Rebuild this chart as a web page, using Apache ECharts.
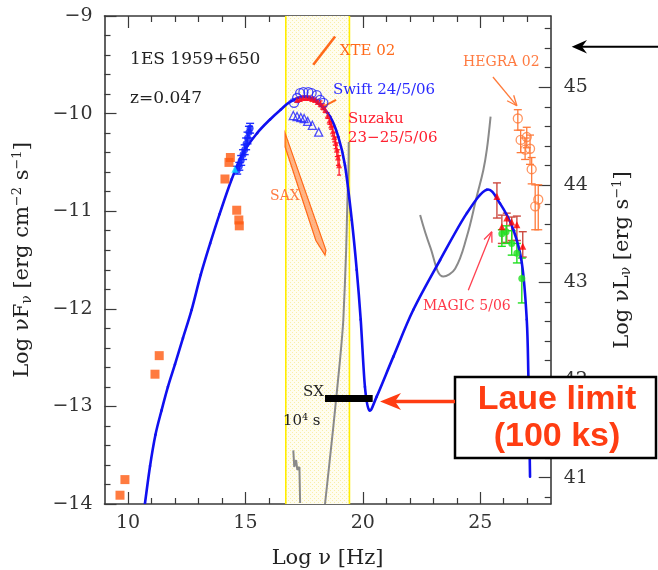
<!DOCTYPE html>
<html>
<head>
<meta charset="utf-8">
<title>1ES 1959+650 SED</title>
<script src="https://cdn.jsdelivr.net/npm/echarts@6/dist/echarts.min.js"></script>
<style>
  html, body { margin: 0; padding: 0; background: #fff; }
  #chart { width: 658px; height: 570px; }
</style>
</head>
<body>
<div id="chart"></div>
<script>
// ---- axes ----
const xMajorTicks = [10, 15, 20, 25];
const yRightTicks = [41, 42, 43, 44, 45];
const lumOffset = 54.73; // log nuL_nu = log nuF_nu + offset

// shaded X-ray window (log nu)
const bandRange = [16.72, 19.43];

// SSC model curve [log nu, log nuFnu]
const modelCurve = [
  [10.72, -14.00], [10.94, -13.61], [11.17, -13.29], [11.43, -13.04], [11.70, -12.80],
  [12.00, -12.57], [12.34, -12.30], [12.71, -12.01], [13.10, -11.65], [13.50, -11.33],
  [13.90, -11.03], [14.42, -10.67], [14.91, -10.40], [15.50, -10.20], [16.05, -10.06],
  [16.50, -9.96], [16.90, -9.88], [17.47, -9.83], [18.04, -9.88], [18.60, -10.03],
  [18.96, -10.24], [19.24, -10.53], [19.53, -11.09], [19.74, -11.60], [19.91, -12.11],
  [20.09, -12.80], [20.28, -13.04], [20.59, -12.90], [21.30, -12.49], [22.15, -12.01],
  [23.29, -11.50], [24.43, -11.02], [25.28, -10.78], [25.84, -10.92], [26.41, -11.19],
  [26.77, -11.53], [26.98, -12.11], [27.05, -12.70], [27.12, -13.72]
];

// sensitivity curves (grey)
const sensHard = [[18.39, -14.0], [18.73, -13.24], [19.03, -12.52], [19.17, -12.11],
  [19.29, -11.40], [19.34, -10.92], [19.39, -10.58], [19.40, -10.29]];
const sensSoft = [[17.04, -13.45], [17.08, -13.62], [17.16, -13.55], [17.21, -13.65],
  [17.30, -13.62], [17.33, -13.99]];
const sensGamma = [[22.44, -11.04], [22.86, -11.36], [23.43, -11.67], [23.93, -11.59],
  [24.43, -11.26], [24.85, -10.85], [25.13, -10.58], [25.28, -10.37], [25.44, -10.03]];

// archival radio / optical (orange squares)
const archival = [[9.66, -13.91], [9.87, -13.75], [11.15, -12.67], [11.33, -12.48],
  [14.13, -10.67], [14.30, -10.50], [14.36, -10.45], [14.63, -10.99], [14.72, -11.09], [14.74, -11.15]];

// Swift UVOT [x, y, err]
const uvot = [[14.65, -10.58, 0.04], [14.74, -10.54, 0.04], [14.82, -10.48, 0.05],
  [14.90, -10.42, 0.05], [14.97, -10.37, 0.05], [15.03, -10.31, 0.06], [15.09, -10.25, 0.06],
  [15.15, -10.19, 0.06], [15.20, -10.15, 0.05]];
const uvotCyan = [[14.55, -10.57]];

// Swift XRT 24/5/06
const swiftCircles = [[17.07, -9.89], [17.20, -9.84], [17.33, -9.79], [17.47, -9.78], [17.68, -9.78],
  [17.82, -9.79], [18.04, -9.81], [18.18, -9.86], [18.32, -9.89]];
const swiftTriangles = [[17.04, -10.02], [17.20, -10.03], [17.36, -10.04], [17.50, -10.05],
  [17.65, -10.08], [17.85, -10.12], [18.12, -10.19]];

// Suzaku 23-25/5/06 [x, y, err]
const suzaku = [[17.20, -9.86, 0.02], [17.32, -9.85, 0.02], [17.45, -9.84, 0.02], [17.58, -9.84, 0.02],
  [17.71, -9.84, 0.02], [17.84, -9.85, 0.02], [17.96, -9.86, 0.02], [18.08, -9.88, 0.02],
  [18.20, -9.90, 0.03], [18.30, -9.93, 0.03], [18.40, -9.96, 0.03], [18.50, -10.02, 0.03],
  [18.58, -10.07, 0.04], [18.65, -10.12, 0.04], [18.72, -10.18, 0.05], [18.78, -10.24, 0.05],
  [18.84, -10.30, 0.06], [18.89, -10.37, 0.07], [18.94, -10.45, 0.08], [18.99, -10.53, 0.10]];

// XTE 02 and SAX
const xteLine = [[17.89, -9.50], [18.82, -9.21]];
const xteTail = [[18.30, -9.93], [18.86, -9.86]];
const saxBowtie = [[16.69, -10.20], [18.43, -11.40], [18.39, -11.45], [18.00, -11.30], [16.69, -10.34]];

// HEGRA 02 [x, y, lo, hi]
const hegra = [[26.60, -10.05, -10.17, -9.96], [26.72, -10.27, -10.40, -10.17],
  [26.98, -10.24, -10.35, -10.14], [26.91, -10.37, -10.47, -10.25], [27.12, -10.36, -10.52, -10.22],
  [27.19, -10.57, -10.72, -10.45], [27.47, -10.88, -11.19, -10.73], [27.34, -10.95, -11.19, -10.73]];

// MAGIC 5/06 [x, y, lo, hi]
const magicRed = [[25.71, -10.85, -11.07, -10.71], [25.92, -11.16, -11.33, -11.04],
  [26.13, -11.07, -11.32, -11.02], [26.34, -11.11, -11.30, -11.06], [26.56, -11.14, -11.30, -11.05],
  [26.81, -11.36, -11.47, -11.21]];
const magicGreen = [[25.92, -11.23, -11.36, -11.19], [26.10, -11.21, -11.33, -11.15],
  [26.34, -11.33, -11.45, -11.20], [26.56, -11.43, -11.53, -11.33], [26.77, -11.69, -11.94, -11.48]];

// Laue lens sensitivity (SX bar)
const sxBar = [[18.39, -12.92], [20.42, -12.92]];

// annotation arrows [x1, y1, x2, y2]
const hegraArrow = [[25.54, -9.625, 26.56, -9.92]];
const magicArrow = [[24.49, -11.81, 25.49, -11.21]];

// annotations
const noteText = ['1ES 1959+650', 'z=0.047', 'XTE 02', 'Swift 24/5/06', 'Suzaku', '23\u221225/5/06',
  'SAX', 'HEGRA 02', 'MAGIC 5/06', 'SX', '10\u2074 s'];
const notePos = [[10.09, -9.45], [10.09, -9.85], [19.02, -9.36], [18.73, -9.76], [19.37, -10.06],
  [19.37, -10.255], [16.05, -10.85], [24.27, -9.48], [22.56, -11.97], [17.45, -12.85], [16.60, -13.15]];

const serif = 'DejaVu Serif';
const axisColor = '#3a3a3a';
const orange = '#ff6a1a';
const noteStyle = [
  { c: '#222', s: 17 }, { c: '#222', s: 17 }, { c: orange, s: 15 }, { c: '#2a2aff', s: 15 },
  { c: '#ff2030', s: 15 }, { c: '#ff2030', s: 15 }, { c: '#ff7a40', s: 14 }, { c: '#ff7a40', s: 14 },
  { c: '#ff3848', s: 14 }, { c: '#222', s: 15 }, { c: '#222', s: 15 }
];

const rightMinor = [];
for (let v = 40.8; v < 45.7; v += 0.2) {
  const r = Math.round(v * 10) / 10;
  if (!yRightTicks.includes(r)) rightMinor.push(r);
}
const xMinor = [];
for (let v = 10; v <= 27; v++) if (!xMajorTicks.includes(v)) xMinor.push(v);

// dotted pattern for the shaded band
const pat = document.createElement('canvas');
pat.width = 4; pat.height = 4;
const pc = pat.getContext('2d');
pc.fillStyle = '#fffdf0'; pc.fillRect(0, 0, 4, 4);
pc.fillStyle = '#f9efa8'; pc.fillRect(0, 0, 1, 1); pc.fillRect(2, 2, 1, 1);

function errorBars(rows, color, cap, width) {
  return {
    type: 'custom', z: 3, silent: true,
    data: rows, encode: { x: 0, y: [1, 2] },
    renderItem: (params, api) => {
      const x = api.value(0);
      const lo = api.coord([x, api.value(1)]);
      const hi = api.coord([x, api.value(2)]);
      const st = { stroke: color, lineWidth: width || 1.2 };
      return { type: 'group', children: [
        { type: 'line', shape: { x1: lo[0], y1: lo[1], x2: hi[0], y2: hi[1] }, style: st },
        { type: 'line', shape: { x1: lo[0] - cap, y1: lo[1], x2: lo[0] + cap, y2: lo[1] }, style: st },
        { type: 'line', shape: { x1: hi[0] - cap, y1: hi[1], x2: hi[0] + cap, y2: hi[1] }, style: st }
      ] };
    }
  };
}

function arrows(rows, color) {
  return {
    type: 'custom', z: 4, silent: true,
    data: rows, encode: { x: [0, 2], y: [1, 3] },
    renderItem: (params, api) => {
      const a = api.coord([api.value(0), api.value(1)]);
      const b = api.coord([api.value(2), api.value(3)]);
      const ang = Math.atan2(b[1] - a[1], b[0] - a[0]);
      const h = 11, w = 0.4;
      const st = { stroke: color, lineWidth: 1.3 };
      return { type: 'group', children: [
        { type: 'line', shape: { x1: a[0], y1: a[1], x2: b[0], y2: b[1] }, style: st },
        { type: 'line', shape: { x1: b[0], y1: b[1], x2: b[0] - h * Math.cos(ang - w), y2: b[1] - h * Math.sin(ang - w) }, style: st },
        { type: 'line', shape: { x1: b[0], y1: b[1], x2: b[0] - h * Math.cos(ang + w), y2: b[1] - h * Math.sin(ang + w) }, style: st }
      ] };
    }
  };
}

// Catmull-Rom spline through the data points (in pixel space, after the axes' scales)
function spline(points, color, width, z) {
  return {
    type: 'custom', z: z, silent: true, clip: true, data: [0],
    renderItem: (params, api) => {
      const p = points.map(d => api.coord(d));
      const kids = [];
      for (let i = 0; i < p.length - 1; i++) {
        const p0 = p[i - 1] || p[i], p1 = p[i], p2 = p[i + 1], p3 = p[i + 2] || p[i + 1];
        kids.push({
          type: 'bezierCurve',
          shape: {
            x1: p1[0], y1: p1[1], x2: p2[0], y2: p2[1],
            cpx1: p1[0] + (p2[0] - p0[0]) / 6, cpy1: p1[1] + (p2[1] - p0[1]) / 6,
            cpx2: p2[0] - (p3[0] - p1[0]) / 6, cpy2: p2[1] - (p3[1] - p1[1]) / 6
          },
          style: { stroke: color, lineWidth: width, fill: null, lineCap: 'round' }
        });
      }
      return { type: 'group', children: kids };
    }
  };
}

function scatter(data, symbol, size, color, open, z) {
  return {
    type: 'scatter', z: z || 5, symbol: symbol, symbolSize: size, silent: true,
    data: data.map(d => [d[0], d[1]]),
    itemStyle: open
      ? { color: 'rgba(255,255,255,0)', borderColor: color, borderWidth: 1.3 }
      : { color: color }
  };
}

function line(data, color, width, smooth, z) {
  return {
    type: 'line', data: data, symbol: 'none', smooth: smooth || false, z: z || 2,
    lineStyle: { color: color, width: width }, silent: true
  };
}

const nameStyle = {
  fontFamily: serif, fontSize: 21, color: '#222',
  rich: {
    n: { fontFamily: serif, fontSize: 21, color: '#222' },
    sub: { fontFamily: serif, fontSize: 14, color: '#222', verticalAlign: 'bottom', padding: [8, 0, 0, 0] },
    sup: { fontFamily: serif, fontSize: 13, color: '#222', verticalAlign: 'top', padding: [0, 0, 10, 0] }
  }
};
const tickLine = { color: axisColor, width: 1.2 };
const labelStyle = { fontFamily: serif, fontSize: 19, color: '#333' };
const minus = v => (v < 0 ? '\u2212' + Math.abs(v) : String(v));

const chart = echarts.init(document.getElementById('chart'));
chart.setOption({
  animation: false,
  backgroundColor: '#fff',
  grid: { left: 104.5, top: 16, right: 107.3, bottom: 66, outerBoundsMode: 'none' },
  xAxis: [
    {
      type: 'value', position: 'bottom', min: 9, max: 28,
      axisLine: { show: true, lineStyle: { color: axisColor, width: 1.6 } },
      axisTick: { show: true, inside: true, length: 6, customValues: xMinor, lineStyle: tickLine },
      axisLabel: { show: false }, splitLine: { show: false },
      name: '{n|Log \u03BD [Hz]}', nameLocation: 'middle', nameGap: 44, nameTextStyle: nameStyle
    },
    {
      type: 'value', position: 'bottom', min: 9, max: 28,
      axisLine: { show: false },
      axisTick: { show: true, inside: true, length: 12, customValues: xMajorTicks, lineStyle: tickLine },
      axisLabel: Object.assign({ show: true, customValues: xMajorTicks, margin: 10 }, labelStyle),
      splitLine: { show: false }
    },
    {
      type: 'value', position: 'top', min: 9, max: 28,
      axisLine: { show: true, lineStyle: { color: axisColor, width: 1.6 } },
      axisTick: { show: true, inside: true, length: 6, customValues: xMinor, lineStyle: tickLine },
      axisLabel: { show: false }, splitLine: { show: false }
    },
    {
      type: 'value', position: 'top', min: 9, max: 28,
      axisLine: { show: false },
      axisTick: { show: true, inside: true, length: 12, customValues: xMajorTicks, lineStyle: tickLine },
      axisLabel: { show: false }, splitLine: { show: false }
    }
  ],
  yAxis: [
    {
      type: 'value', position: 'left', min: -14, max: -9, interval: 1,
      axisLine: { show: true, lineStyle: { color: axisColor, width: 1.6 } },
      axisTick: { show: true, inside: true, length: 12, lineStyle: tickLine },
      minorTick: { show: true, splitNumber: 5, length: 6, lineStyle: tickLine },
      axisLabel: Object.assign({ margin: 12, formatter: minus }, labelStyle),
      splitLine: { show: false }, minorSplitLine: { show: false },
      name: '{n|Log \u03BDF}{sub|\u03BD}{n| [erg cm}{sup|\u22122}{n| s}{sup|\u22121}{n|]}',
      nameLocation: 'middle', nameGap: 70, nameRotate: 90, nameTextStyle: nameStyle
    },
    {
      type: 'value', position: 'right', min: -14 + lumOffset, max: -9 + lumOffset,
      axisLine: { show: true, lineStyle: { color: axisColor, width: 1.6 } },
      axisTick: { show: true, inside: true, length: 12, customValues: yRightTicks, lineStyle: tickLine },
      axisLabel: Object.assign({ show: true, customValues: yRightTicks, margin: 13 }, labelStyle),
      splitLine: { show: false },
      name: '{n|Log \u03BDL}{sub|\u03BD}{n| [erg s}{sup|\u22121}{n|]}',
      nameLocation: 'middle', nameGap: 60, nameRotate: 90, nameTextStyle: nameStyle
    },
    {
      type: 'value', position: 'right', min: -14 + lumOffset, max: -9 + lumOffset,
      axisLine: { show: false },
      axisTick: { show: true, inside: true, length: 6, customValues: rightMinor, lineStyle: tickLine },
      axisLabel: { show: false }, splitLine: { show: false }
    }
  ],
  series: [
    {
      type: 'custom', z: 1, silent: true, data: [bandRange], encode: { x: [0, 1] },
      renderItem: (params, api) => {
        const a = api.coord([api.value(0), -9]);
        const b = api.coord([api.value(1), -14]);
        const st = { stroke: '#ffee00', lineWidth: 1.6 };
        return { type: 'group', children: [
          { type: 'rect', shape: { x: a[0], y: a[1], width: b[0] - a[0], height: b[1] - a[1] },
            style: { fill: { image: pat, repeat: 'repeat' } } },
          { type: 'line', shape: { x1: a[0], y1: a[1], x2: a[0], y2: b[1] }, style: st },
          { type: 'line', shape: { x1: b[0], y1: a[1], x2: b[0], y2: b[1] }, style: st }
        ] };
      }
    },
    line(sensHard, '#8a8a8a', 2, 0.2),
    line(sensSoft, '#8a8a8a', 2, false),
    line(sensGamma, '#8a8a8a', 2, 0.4),
    line(xteLine, orange, 2.6, false, 3),
    line(xteTail, orange, 2, false, 3),
    {
      type: 'custom', z: 3, silent: true, data: [0],
      renderItem: (params, api) => ({
        type: 'polygon', shape: { points: saxBowtie.map(p => api.coord(p)) },
        style: { fill: 'rgba(255,120,50,0.55)', stroke: orange, lineWidth: 1.2 }
      })
    },
    line(sxBar, '#000', 7, false, 6),
    spline(modelCurve, '#1010f0', 2.6, 4),
    scatter(archival, 'rect', 9, '#ff5a10', false),
    errorBars(uvot.map(d => [d[0], d[1] - d[2], d[1] + d[2]]), '#2030ff', 4, 1.4),
    scatter(uvot, 'circle', 7, '#1020ff', false),
    scatter(uvotCyan, 'triangle', 7, '#10e0ff', false),
    scatter(swiftCircles, 'circle', 9, '#2020ff', true),
    scatter(swiftTriangles, 'triangle', 8, '#2020ff', true),
    errorBars(suzaku.map(d => [d[0], d[1] - d[2], d[1] + d[2]]), '#ff1020', 2, 1.2),
    scatter(suzaku, 'triangle', 6, '#ff1020', false),
    errorBars(hegra.map(d => [d[0], d[2], d[3]]), '#ff7a3a', 4, 1.3),
    scatter(hegra, 'circle', 9, '#ff7a3a', true),
    errorBars(magicRed.map(d => [d[0], d[2], d[3]]), '#cc4a40', 4, 1.4),
    errorBars(magicGreen.map(d => [d[0], d[2], d[3]]), '#20e020', 4, 1.4),
    scatter(magicGreen, 'circle', 7, '#20e020', false, 6),
    scatter(magicRed, 'triangle', 7, '#ff0000', false, 7),
    arrows(hegraArrow, '#ff7a3a'),
    arrows(magicArrow, '#ff4050'),
    {
      type: 'custom', z: 8, silent: true,
      data: notePos.map((p, i) => [p[0], p[1], i]), encode: { x: 0, y: 1 },
      renderItem: (params, api) => {
        const i = api.value(2);
        const p = api.coord([api.value(0), api.value(1)]);
        return { type: 'text', x: p[0], y: p[1], style: {
          text: noteText[i], fill: noteStyle[i].c, fontSize: noteStyle[i].s, fontFamily: serif,
          align: 'left', verticalAlign: 'middle' } };
      }
    }
  ],
  graphic: [
    { type: 'rect', z: 100, shape: { x: 455, y: 377, width: 201, height: 81 },
      style: { fill: '#fff', stroke: '#000', lineWidth: 2.5 } },
    { type: 'text', z: 101, x: 557, y: 418, style: {
      text: 'Laue limit\n(100 ks)', fill: '#ff3d12', fontSize: 34, fontWeight: 'bold',
      fontFamily: 'Liberation Sans', align: 'center', verticalAlign: 'middle', lineHeight: 37 } },
    { type: 'line', z: 100, shape: { x1: 455, y1: 401.5, x2: 392, y2: 401.5 },
      style: { stroke: '#ff3d12', lineWidth: 3.5 } },
    { type: 'polygon', z: 100, shape: { points: [[380, 401.5], [401, 393], [395, 401.5], [401, 410]] },
      style: { fill: '#ff3d12' } },
    { type: 'line', z: 100, shape: { x1: 658, y1: 46.7, x2: 582, y2: 46.7 },
      style: { stroke: '#000', lineWidth: 2 } },
    { type: 'polygon', z: 100, shape: { points: [[571.7, 46.7], [587, 40], [582, 46.7], [587, 53.4]] },
      style: { fill: '#000' } }
  ]
});
</script>
</body>
</html>
